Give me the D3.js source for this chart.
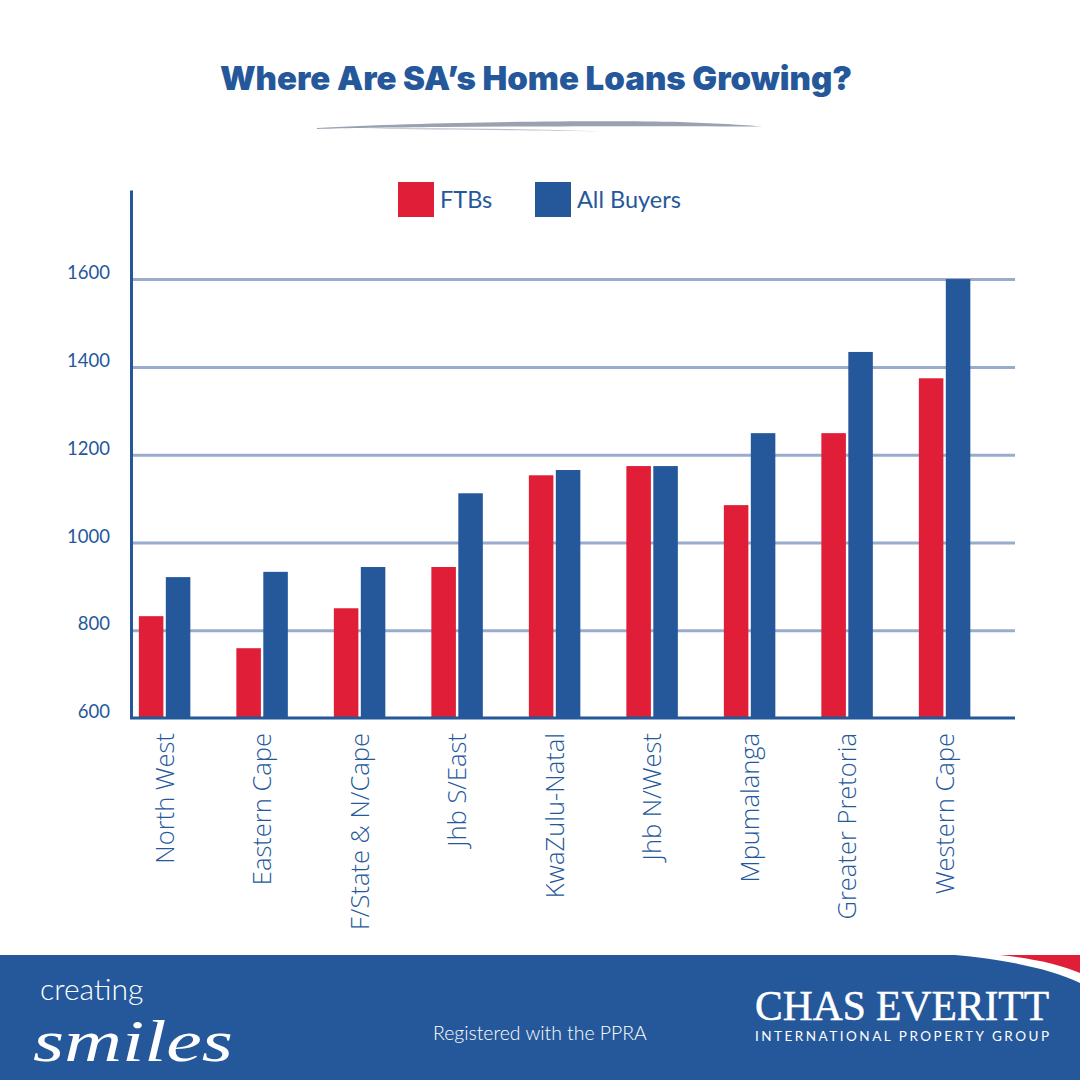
<!DOCTYPE html>
<html>
<head>
<meta charset="utf-8">
<script src="https://cdn.jsdelivr.net/npm/d3@7"></script>
<style>
  html, body { margin: 0; padding: 0; background: #fff; }
  svg { display: block; }
  text { font-family: Lato, sans-serif; }
</style>
</head>
<body>
<div id="canvas"></div>
<script>
var categories = ['North West', 'Eastern Cape', 'F/State & N/Cape', 'Jhb S/East', 'KwaZulu-Natal', 'Jhb N/West', 'Mpumalanga', 'Greater Pretoria', 'Western Cape'];
var ftbs = [832, 759, 850, 944, 1153, 1174, 1085, 1249, 1374];
var allBuyers = [921, 933, 944, 1112, 1165, 1174, 1249, 1434, 1600];
var seriesNames = ['FTBs', 'All Buyers'];
var yTicks = [600, 800, 1000, 1200, 1400, 1600];

var BLUE = '#25589a', RED = '#e01e37', GRID = '#9aaccd';

var svg = d3.select('#canvas').append('svg')
  .attr('width', 1080)
  .attr('height', 1080);

// title and the brush stroke under it
svg.append('text')
  .attr('x', 536).attr('y', 90)
  .attr('text-anchor', 'middle')
  .attr('font-size', 33)
  .attr('font-weight', 900)
  .attr('fill', BLUE)
  .style('font-family', 'Inter, sans-serif')
  .text('Where Are SA\u2019s Home Loans Growing?');

svg.append('path')
  .attr('d', 'M317 128 C420 122 600 120 680 122 C710 123 745 125 763 126.5 C680 126 560 126 440 127 C390 127.5 345 128 317 129 Z')
  .attr('fill', '#9aa1b1');
svg.append('path')
  .attr('d', 'M360 128.5 C440 127.5 540 129 600 131.5 C530 130.5 440 129.5 360 128.5 Z')
  .attr('fill', '#b9bec9');

// scales
var x0 = d3.scaleBand().domain(categories).range([115.85, 993.35]).paddingInner(0.472).paddingOuter(0.236);
var x1 = d3.scaleBand().domain(seriesNames).range([0, x0.bandwidth()]).paddingInner(0.09);
var y = d3.scaleLinear().domain([600, 1803]).range([718, 190]);
var color = d3.scaleOrdinal().domain(seriesNames).range([RED, BLUE]);

// gridlines
var grid = svg.append('g').attr('transform', 'translate(131,0)')
  .call(d3.axisLeft(y).tickValues(yTicks.slice(1)).tickSize(-884).tickFormat(''));
grid.select('.domain').remove();
grid.selectAll('line').attr('stroke', GRID).attr('stroke-width', 3);

// bars
var rows = categories.map(function (c, i) {
  return { name: c, values: [ftbs[i], allBuyers[i]] };
});
var groups = svg.selectAll('g.cat').data(rows).enter().append('g')
  .attr('class', 'cat')
  .attr('transform', function (d) { return 'translate(' + x0(d.name) + ',0)'; });
groups.selectAll('rect').data(function (d) {
  return d.values.map(function (v, i) { return { s: seriesNames[i], v: v }; });
}).enter().append('rect')
  .attr('x', function (d) { return x1(d.s); })
  .attr('y', function (d) { return y(d.v); })
  .attr('width', x1.bandwidth())
  .attr('height', function (d) { return y(600) - y(d.v); })
  .attr('fill', function (d) { return color(d.s); });

// y axis
var yAxis = svg.append('g').attr('transform', 'translate(131,0)')
  .call(d3.axisLeft(y).tickValues(yTicks).tickSize(0).tickPadding(21).tickFormat(d3.format('d')));
yAxis.select('.domain').attr('stroke', BLUE).attr('stroke-width', 3);
yAxis.selectAll('text')
  .attr('font-size', 18.5)
  .attr('fill', BLUE)
  .attr('dy', '-0.02em')
  .style('font-family', 'Lato, sans-serif');

// x axis
var xAxis = svg.append('g').attr('transform', 'translate(0,718)')
  .call(d3.axisBottom(x0).tickSize(0).tickPadding(0));
xAxis.select('.domain').remove();
xAxis.selectAll('text')
  .attr('font-size', 25.5)
  .attr('font-weight', 300)
  .attr('fill', BLUE)
  .attr('text-anchor', 'end')
  .attr('transform', 'rotate(-90)')
  .attr('x', -15)
  .attr('y', 0)
  .attr('dy', '0.35em')
  .style('font-family', '"Open Sans", sans-serif');
svg.append('line')
  .attr('x1', 130).attr('x2', 1015)
  .attr('y1', y(600)).attr('y2', y(600))
  .attr('stroke', BLUE).attr('stroke-width', 3);

// legend
var legendX = d3.scaleOrdinal().domain(seriesNames).range([398, 535]);
var legend = svg.selectAll('g.legend').data(seriesNames).enter().append('g')
  .attr('class', 'legend')
  .attr('transform', function (d) { return 'translate(' + legendX(d) + ',182)'; });
legend.append('rect').attr('width', 36).attr('height', 35)
  .attr('fill', function (d) { return color(d); });
legend.append('text')
  .attr('x', 42).attr('y', 26)
  .attr('font-size', 23.5)
  .attr('fill', BLUE)
  .text(function (d) { return d; });

// footer band
svg.append('rect').attr('x', 0).attr('y', 955).attr('width', 1080).attr('height', 125).attr('fill', BLUE);
svg.append('path')
  .attr('d', 'M955 955 C1000 959 1050 968 1080 983 L1080 955 Z')
  .attr('fill', '#fff');
svg.append('path')
  .attr('d', 'M1000 955 C1030 958 1060 964 1080 973 L1080 955 Z')
  .attr('fill', RED);

svg.append('text')
  .attr('x', 40).attr('y', 1000)
  .attr('font-size', 30).attr('font-weight', 300)
  .attr('fill', '#fff')
  .text('creating');
svg.append('text')
  .attr('x', 33).attr('y', 1061)
  .attr('font-size', 60)
  .attr('font-style', 'italic')
  .attr('fill', '#fff')
  .attr('textLength', 200)
  .attr('lengthAdjust', 'spacingAndGlyphs')
  .style('font-family', '"Liberation Serif", serif')
  .text('smiles');

svg.append('text')
  .attr('x', 433).attr('y', 1040)
  .attr('font-size', 19.4).attr('font-weight', 300)
  .attr('fill', '#fff')
  .text('Registered with the PPRA');

svg.append('text')
  .attr('x', 755).attr('y', 1020)
  .attr('font-size', 42)
  .attr('fill', '#fff')
  .attr('stroke', '#fff')
  .attr('stroke-width', 0.5)
  .attr('textLength', 294)
  .attr('lengthAdjust', 'spacingAndGlyphs')
  .style('font-family', '"Liberation Serif", serif')
  .text('CHAS EVERITT');
svg.append('text')
  .attr('x', 755).attr('y', 1041)
  .attr('font-size', 13.5)
  .attr('fill', '#fff')
  .attr('textLength', 294)
  .text('INTERNATIONAL PROPERTY GROUP');
</script>
</body>
</html>
